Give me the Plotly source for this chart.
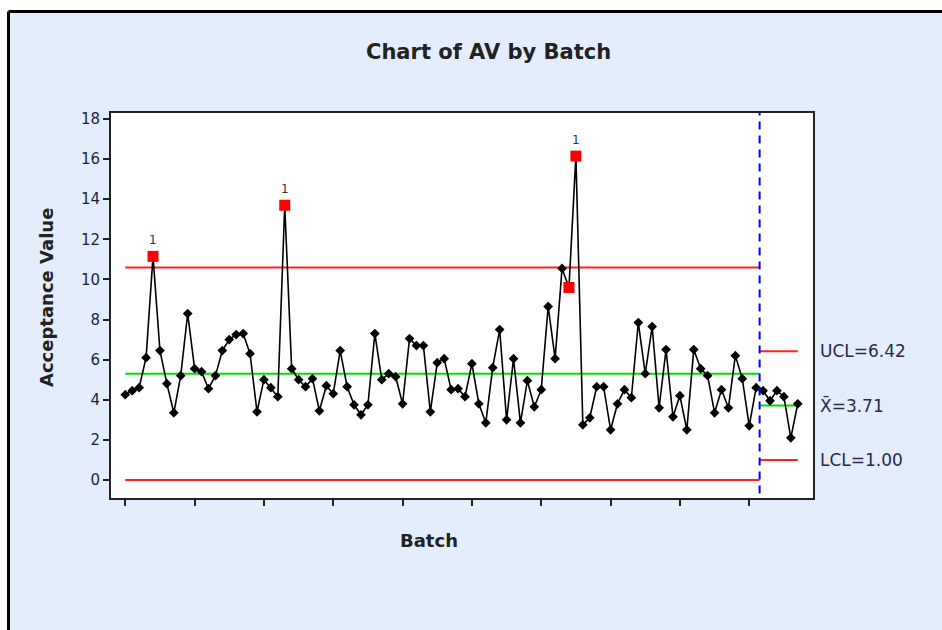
import plotly.graph_objects as go

# ---- data ----
batch = list(range(1, 99))
av = [4.25, 4.45, 4.6, 6.1, 11.15, 6.45, 4.8, 3.35, 5.2, 8.3,
      5.55, 5.4, 4.55, 5.2, 6.45, 7.0, 7.25, 7.3, 6.3, 3.4,
      5.0, 4.6, 4.15, 13.7, 5.55, 5.0, 4.65, 5.05, 3.45, 4.7,
      4.3, 6.45, 4.65, 3.75, 3.25, 3.75, 7.3, 5.0, 5.3, 5.15,
      3.8, 7.05, 6.7, 6.7, 3.4, 5.85, 6.05, 4.5, 4.55, 4.15,
      5.8, 3.8, 2.85, 5.6, 7.5, 3.0, 6.05, 2.85, 4.95, 3.65,
      4.5, 8.65, 6.05, 10.55, 9.6, 16.15, 2.75, 3.1, 4.65, 4.65,
      2.5, 3.8, 4.5, 4.1, 7.85, 5.3, 7.65, 3.6, 6.5, 3.15,
      4.2, 2.5, 6.5, 5.55, 5.2, 3.35, 4.5, 3.6, 6.2, 5.05,
      2.7, 4.6, 4.45, 3.95, 4.45, 4.15, 2.1, 3.8]
flagged = [5, 24, 65, 66]          # batches marked red
test1_labels = [5, 24, 66]         # batches labelled "1"
stage_split = 92.5
stage1 = dict(ucl=10.6, cl=5.3, lcl=0.0)
stage2 = dict(ucl=6.42, cl=3.71, lcl=1.00)
ytick_vals = list(range(0, 20, 2))
xtick_vals = list(range(1, 92, 10))

# ---- geometry helpers (pixel -> paper) ----
L, R, T, B = 111, 813, 113, 498
W, H = 942, 630
def px(x):
    return (x - L) / (R - L)
def py(y):
    return (B - y) / (B - T)

fig = go.Figure()

# control limit lines
first, last = batch[0], batch[-1]
for (x0, x1, lim) in [(first, stage_split, stage1), (stage_split, last, stage2)]:
    for key, col in [("ucl", "#FF2020"), ("lcl", "#FF2020"), ("cl", "#00E000")]:
        fig.add_trace(go.Scatter(x=[x0, x1], y=[lim[key], lim[key]], mode="lines",
                                 line=dict(color=col, width=2), hoverinfo="skip",
                                 showlegend=False))

# data
fig.add_trace(go.Scatter(x=batch, y=av, mode="lines+markers",
                         line=dict(color="black", width=1.6),
                         marker=dict(symbol="diamond", size=7.5, color="black"),
                         showlegend=False))
fig.add_trace(go.Scatter(x=flagged, y=[av[b - 1] for b in flagged], mode="markers",
                         marker=dict(symbol="square", size=11, color="#FF0000"),
                         showlegend=False))

# stage divider
fig.add_shape(type="line", xref="x", yref="paper", x0=stage_split, x1=stage_split,
              y0=0.012, y1=1, line=dict(color="#0000FF", width=2, dash="8px,6px"))

# outer frame (white strips + black border)
fig.add_shape(type="rect", xref="paper", yref="paper", x0=px(0), x1=px(W),
              y0=py(10), y1=py(0), fillcolor="white", line=dict(width=0), layer="below")
fig.add_shape(type="rect", xref="paper", yref="paper", x0=px(0), x1=px(8),
              y0=py(H), y1=py(0), fillcolor="white", line=dict(width=0), layer="below")
fig.add_shape(type="line", xref="paper", yref="paper", x0=px(8.5), x1=px(W),
              y0=py(11.5), y1=py(11.5), line=dict(color="black", width=3))
fig.add_shape(type="line", xref="paper", yref="paper", x0=px(8.5), x1=px(8.5),
              y0=py(H), y1=py(11.5), line=dict(color="black", width=3))

# annotations
ann = []
ann.append(dict(text="<b>Chart of AV by Batch</b>", x=px(488.5), y=py(52), xref="paper",
                yref="paper", showarrow=False, xanchor="center", yanchor="middle",
                font=dict(size=21, color="#222222")))
ann.append(dict(text="<b>Acceptance Value</b>", x=px(46), y=py(298), xref="paper",
                yref="paper", showarrow=False, textangle=-90, xanchor="center",
                yanchor="middle", font=dict(size=18, color="#222222")))
ann.append(dict(text="<b>Batch</b>", x=px(429), y=py(540), xref="paper", yref="paper",
                showarrow=False, xanchor="center", yanchor="middle",
                font=dict(size=18, color="#222222")))
for txt, val in [("UCL=6.42", stage2["ucl"]), ("X\u0304=3.71", stage2["cl"]),
                 ("LCL=1.00", stage2["lcl"])]:
    ann.append(dict(text=txt, x=px(818), y=val, xref="paper", yref="y", showarrow=False,
                    xanchor="left", yanchor="middle",
                    font=dict(size=17, color="#2a2a44")))
for b in test1_labels:
    ann.append(dict(text="1", x=b, y=av[b - 1], xref="x", yref="y", showarrow=False,
                    yshift=16, font=dict(size=12, color="#333344")))

fig.update_layout(
    width=W, height=H,
    margin=dict(l=L, r=W - R, t=T, b=H - B),
    paper_bgcolor="#E3EDFC", plot_bgcolor="white",
    font=dict(family="DejaVu Sans", color="#222244"),
    annotations=ann, showlegend=False,
)
fig.update_xaxes(range=[-1.06, 100.2], tickvals=xtick_vals, showticklabels=False,
                 ticks="outside", ticklen=6, tickwidth=1.5, tickcolor="#222222",
                 showline=True, mirror=True, linecolor="#222222", linewidth=2,
                 showgrid=False, zeroline=False)
fig.update_yaxes(range=[-0.9, 18.3], tickvals=ytick_vals, ticks="outside", ticklen=6,
                 tickwidth=1.5, tickcolor="#222222", showline=True, mirror=True,
                 linecolor="#222222", linewidth=2, showgrid=False, zeroline=False,
                 tickfont=dict(size=15, color="#1e1e44"))

fig.write_html("out.html")
